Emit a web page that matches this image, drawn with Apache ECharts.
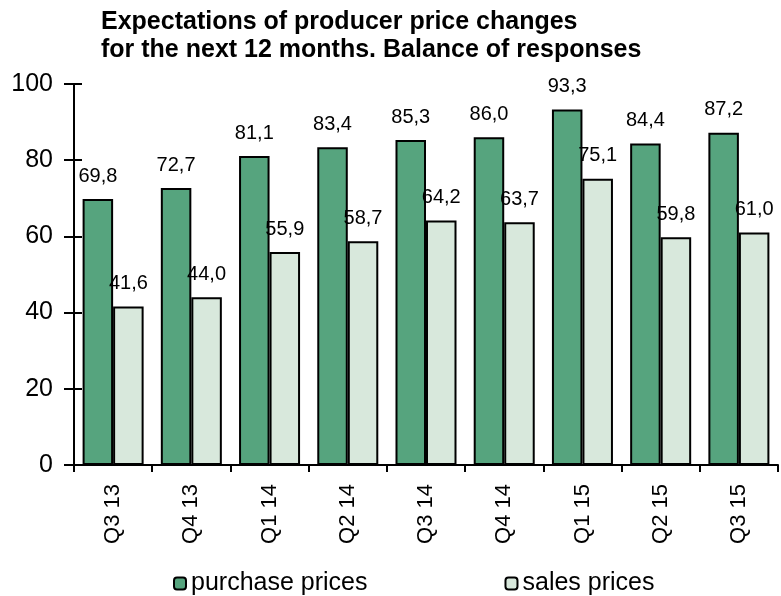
<!DOCTYPE html>
<html>
<head>
<meta charset="utf-8">
<script src="https://cdn.jsdelivr.net/npm/echarts@6/dist/echarts.min.js"></script>
<style>
  html, body { margin: 0; padding: 0; background: #fff; }
  #chart { width: 781px; height: 596px; }
</style>
</head>
<body>
<div id="chart"></div>
<script>
var categories = ['Q3 13', 'Q4 13', 'Q1 14', 'Q2 14', 'Q3 14', 'Q4 14', 'Q1 15', 'Q2 15', 'Q3 15']
var purchasePrices = [69.8, 72.7, 81.1, 83.4, 85.3, 86.0, 93.3, 84.4, 87.2]
var salesPrices = [41.6, 44.0, 55.9, 58.7, 64.2, 63.7, 75.1, 59.8, 61.0]
var yTicks = [0, 20, 40, 60, 80, 100]

var font = 'Liberation Sans, Arial, sans-serif'

// values are shown with a decimal comma
function commaLabel(p) {
  return p.value.toFixed(1).replace('.', ',')
}

var chart = echarts.init(document.getElementById('chart'))
var option = {
  animation: false,
  title: {
    text: 'Expectations of producer price changes\nfor the next 12 months. Balance of responses',
    left: 96,
    top: 3,
    textStyle: { fontFamily: font, fontWeight: 'bold', fontSize: 25, lineHeight: 28, color: '#000' }
  },
  legend: {
    left: 168,
    top: 566,
    itemWidth: 12,
    itemHeight: 12,
    itemGap: 137,
    textStyle: { fontFamily: font, fontSize: 25, color: '#000' },
    data: ['purchase prices', 'sales prices']
  },
  grid: { left: 74, right: 3, top: 84, bottom: 131 },
  xAxis: {
    type: 'category',
    data: categories,
    axisLine: { lineStyle: { color: '#000', width: 2 } },
    axisTick: { show: true, length: 7, lineStyle: { color: '#000', width: 2 } },
    axisLabel: { rotate: 90, margin: 19, fontFamily: font, fontSize: 22, color: '#000' }
  },
  yAxis: [
    {
      type: 'value',
      min: yTicks[0],
      max: yTicks[yTicks.length - 1],
      interval: 20,
      splitLine: { show: false },
      axisLine: { show: true, lineStyle: { color: '#000', width: 2 } },
      axisTick: { show: true, length: 10, lineStyle: { color: '#000', width: 2 } },
      axisLabel: { margin: 21, fontFamily: font, fontSize: 25, color: '#000' }
    },
    {
      // inner half of the crossing tick marks
      type: 'value',
      position: 'left',
      min: yTicks[0],
      max: yTicks[yTicks.length - 1],
      interval: 20,
      splitLine: { show: false },
      axisLine: { show: false },
      axisTick: { show: true, inside: true, length: 8, lineStyle: { color: '#000', width: 2 } },
      axisLabel: { show: false }
    }
  ],
  series: [
    {
      name: 'purchase prices',
      type: 'bar',
      data: purchasePrices,
      barGap: '0%',
      barCategoryGap: '22%',
      itemStyle: { color: '#56a47e', borderColor: '#000', borderWidth: 2 },
      label: { show: true, position: 'top', distance: 13, formatter: commaLabel,
        fontFamily: font, fontSize: 20, color: '#000' }
    },
    {
      name: 'sales prices',
      type: 'bar',
      data: salesPrices,
      barGap: '0%',
      barCategoryGap: '22%',
      itemStyle: { color: '#d8e8dc', borderColor: '#000', borderWidth: 2 },
      label: { show: true, position: 'top', distance: 13, formatter: commaLabel,
        fontFamily: font, fontSize: 20, color: '#000' }
    }
  ]
}
chart.setOption(option)
</script>
</body>
</html>
